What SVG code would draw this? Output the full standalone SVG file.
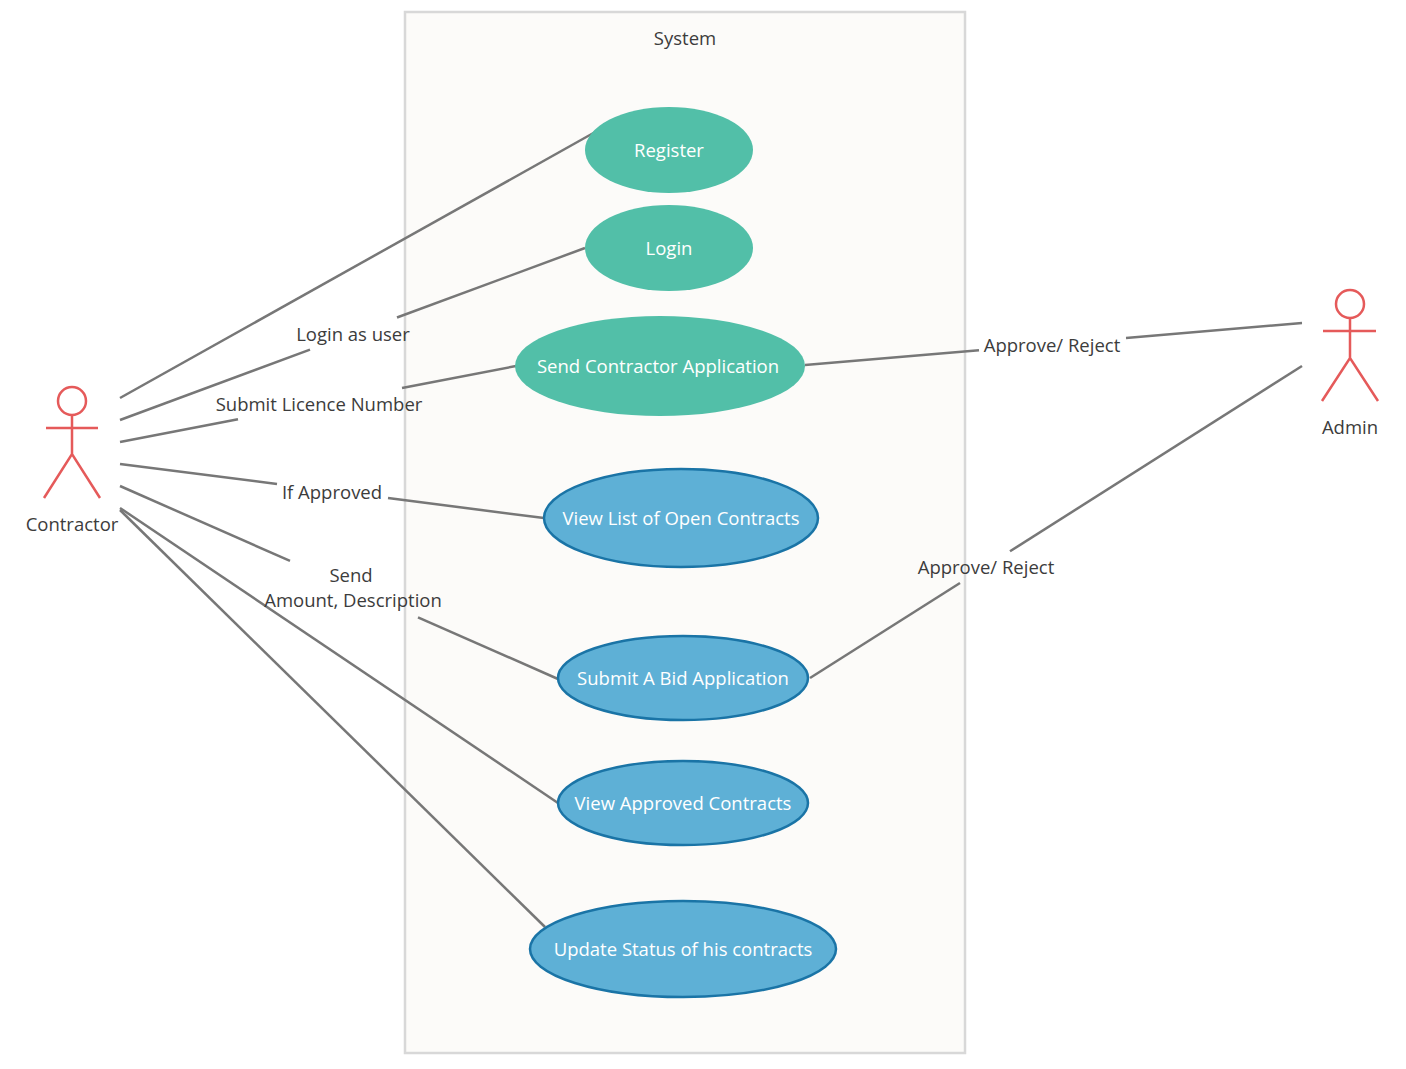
<svg xmlns="http://www.w3.org/2000/svg" width="1406" height="1069" viewBox="0 0 1406 1069">
<style>
text{font-family:"Open Sans","Noto Sans","Liberation Sans",sans-serif;font-size:18.5px;text-anchor:middle;fill:#3c3c3c}
.uc text{fill:#fff}
.teal{fill:#52bfa8}
.blue{fill:#5eb0d6;stroke:#1a74a6;stroke-width:2.5}
.act{stroke:#e55a5a;stroke-width:2.5;fill:none}
.conn line{stroke:#777;stroke-width:2.5}
</style>
<rect width="1406" height="1069" fill="#fff"/>
<g id="system"><rect x="405" y="12" width="560" height="1041" fill="#fcfbf9" stroke="#d8d8d8" stroke-width="2.5"/><text x="685" y="45">System</text></g>
<g class="conn" id="connectors">
<line x1="120" y1="398" x2="597" y2="131"/>
<line x1="120" y1="420" x2="310" y2="349.7"/><line x1="397" y1="317.5" x2="585" y2="248"/>
<line x1="120" y1="442" x2="238" y2="419.3"/><line x1="402" y1="387.9" x2="516" y2="366"/>
<line x1="120" y1="464" x2="277" y2="484"/><line x1="388" y1="498.1" x2="544" y2="518"/>
<line x1="120" y1="486" x2="290" y2="560.9"/><line x1="418" y1="617.3" x2="558" y2="679"/>
<line x1="120" y1="508" x2="558" y2="803"/>
<line x1="120" y1="510" x2="545" y2="927"/>
<line x1="805" y1="365" x2="979" y2="350.3"/><line x1="1126" y1="337.9" x2="1302" y2="323"/>
<line x1="810" y1="678" x2="960" y2="583"/><line x1="1010" y1="551.3" x2="1302" y2="366"/>
<text x="353" y="341">Login as user</text>
<text x="319" y="411">Submit Licence Number</text>
<text x="332" y="499">If Approved</text>
<text x="351" y="582">Send</text><text x="353" y="607">Amount, Description</text>
<text x="1052" y="352">Approve/ Reject</text>
<text x="986" y="574">Approve/ Reject</text>
</g>
<g class="uc" id="register"><ellipse class="teal" cx="669" cy="150" rx="84" ry="43"/><text x="669" y="157">Register</text></g>
<g class="uc" id="login"><ellipse class="teal" cx="669" cy="248" rx="84" ry="43"/><text x="669" y="255">Login</text></g>
<g class="uc" id="sendapp"><ellipse class="teal" cx="660" cy="366" rx="145" ry="50"/><text x="658" y="373">Send Contractor Application</text></g>
<g class="uc" id="viewopen"><ellipse class="blue" cx="681" cy="518" rx="137" ry="49"/><text x="681" y="525">View List of Open Contracts</text></g>
<g class="uc" id="submitbid"><ellipse class="blue" cx="683" cy="678" rx="125" ry="42"/><text x="683" y="685">Submit A Bid Application</text></g>
<g class="uc" id="viewapproved"><ellipse class="blue" cx="683" cy="803" rx="125" ry="42"/><text x="683" y="810">View Approved Contracts</text></g>
<g class="uc" id="update"><ellipse class="blue" cx="683" cy="949" rx="153" ry="48"/><text x="683" y="956">Update Status of his contracts</text></g>
<g id="contractor"><circle class="act" cx="72" cy="401" r="14"/><path class="act" d="M72 415V454M46 428H98M44 498L72 454L100 498"/><text x="72" y="531">Contractor</text></g>
<g id="admin"><circle class="act" cx="1350" cy="304" r="14"/><path class="act" d="M1350 318V358M1323 331H1376M1322 401L1350 358L1378 401"/><text x="1350" y="434">Admin</text></g>
</svg>
